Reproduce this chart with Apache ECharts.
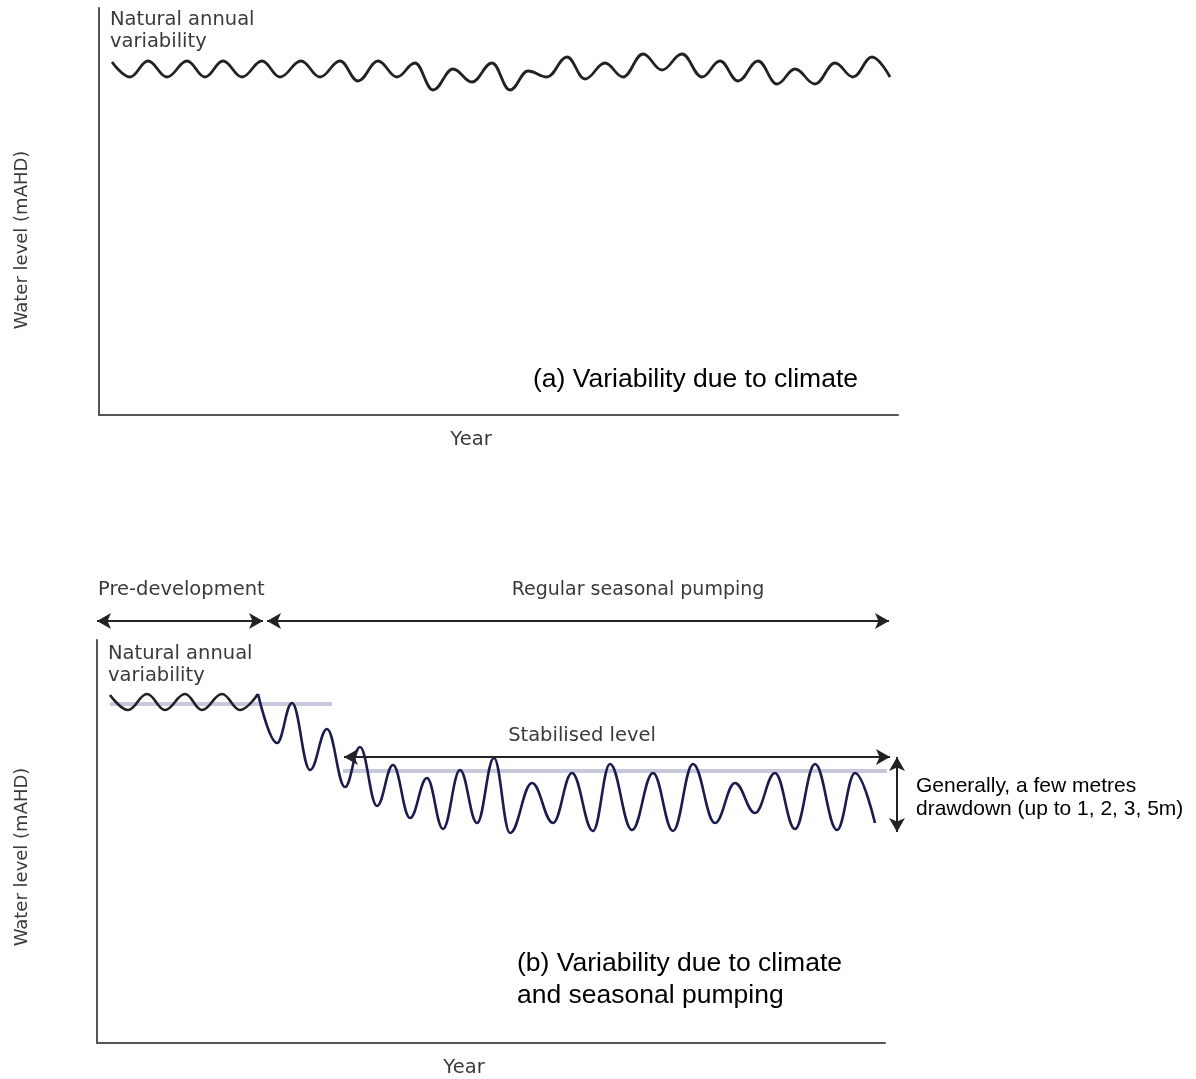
<!DOCTYPE html>
<html>
<head>
<meta charset="utf-8">
<script src="https://cdn.jsdelivr.net/npm/echarts@6/dist/echarts.min.js"></script>
<style>
html,body{margin:0;padding:0;background:#fff;}
#chart{width:1196px;height:1079px;}
</style>
</head>
<body>
<div id="chart"></div>
<script>
// ---- Data (abstract units: x = time, y = water level) ----
// Panel (a): natural annual variability, extrema of the wave
const topWave = [[13,353],[31,338],[49,354],[68,338],[88,354],[106,338],[124,354],[143,338],[163,354],[181,338],[202,354],[221,338],[241,354],[259,334],[279,354],[298,338],[316,352],[334,325],[354,346],[373,333],[393,352],[411,325],[429,344],[448,338],[468,358],[486,336],[506,352],[524,338],[544,361],[563,345],[583,361],[603,338],[621,354],[639,334],[659,354],[678,331],[696,346],[716,331],[736,352],[754,338],[773,358],[791,338]];

// Panel (b): pre-development natural variability
const bottomNatural = [[13,348],[31,333],[50,349],[68,333],[88,349],[105,333],[125,349],[143,333],[161,349]];
// Panel (b): regular seasonal pumping
const bottomPumping = [[161,349],[180,300],[195,340],[213,273],[230,314],[248,256],[263,296],[280,237],[296,278],[313,225],[330,265],[346,214],[363,273],[380,220],[397,285],[413,210],[435,260],[456,220],[475,270],[496,212],[513,279],[535,213],[556,270],[576,212],[596,279],[618,220],[638,260],[658,230],[678,270],[698,214],[718,279],[740,213],[758,270],[778,220]];

// Reference levels
const preLevel = [[13,339],[235,339]];
const stableLevel = [[246,272],[796,272]];

// Annotation arrows (start, end), same units as panel (b)
const arrowPre = [[0,422],[166,422]];
const arrowPump = [[170,422],[792,422]];
const arrowStable = [[247,286],[793,286]];
const arrowDrawdown = [[800,286],[800,211]];

// Axis extents
const topX = [0,799], topY = [0,407];
const botX = [0,788], botY = [0,403];
const annX = [0,820], annY = [0,483];

const AX = {type:'value', axisTick:{show:false}, axisLabel:{show:false}, splitLine:{show:false},
  axisLine:{show:true, lineStyle:{color:'#555', width:2}}};
const AXH = {type:'value', show:false};

const chart = echarts.init(document.getElementById('chart'));
const geo = 'DejaVu Sans';
const ari = 'Liberation Sans, Arial';
function txt(x,y,t,opt){
  return Object.assign({type:'text', x:x, y:y, silent:true,
    style:Object.assign({text:t, fill:'#3a3a3a', font:'19.5px "'+geo+'"', textAlign:'left', textVerticalAlign:'middle'}, opt||{})});
}
function arrowML(pts){
  return [{coord:pts[0]},{coord:pts[1]}];
}
const option = {
  animation:false,
  grid:[
    {left:99, top:8, width:799, height:407},
    {left:97, top:640, width:788, height:403},
    {left:97, top:560, width:820, height:483}
  ],
  xAxis:[
    Object.assign({}, AX, {gridIndex:0, min:topX[0], max:topX[1]}),
    Object.assign({}, AX, {gridIndex:1, min:botX[0], max:botX[1]}),
    Object.assign({}, AXH, {gridIndex:2, min:annX[0], max:annX[1]})
  ],
  yAxis:[
    Object.assign({}, AX, {gridIndex:0, min:topY[0], max:topY[1]}),
    Object.assign({}, AX, {gridIndex:1, min:botY[0], max:botY[1]}),
    Object.assign({}, AXH, {gridIndex:2, min:annY[0], max:annY[1]})
  ],
  series:[
    {type:'line', xAxisIndex:0, yAxisIndex:0, data:topWave, smooth:0.4, smoothMonotone:'x',
      showSymbol:false, symbol:'none', lineStyle:{color:'#222', width:2.8}, silent:true},
    {type:'line', xAxisIndex:1, yAxisIndex:1, data:preLevel, showSymbol:false, symbol:'none',
      lineStyle:{color:'#c8c8dc', width:4}, silent:true, z:1},
    {type:'line', xAxisIndex:1, yAxisIndex:1, data:stableLevel, showSymbol:false, symbol:'none', clip:false,
      lineStyle:{color:'#c8c8dc', width:4}, silent:true, z:1},
    {type:'line', xAxisIndex:1, yAxisIndex:1, data:bottomNatural, smooth:0.4, smoothMonotone:'x',
      showSymbol:false, symbol:'none', lineStyle:{color:'#222', width:2.6}, silent:true, z:3},
    {type:'line', xAxisIndex:1, yAxisIndex:1, data:bottomPumping, smooth:0.4, smoothMonotone:'x',
      showSymbol:false, symbol:'none', lineStyle:{color:'#1b1b4d', width:2.6}, silent:true, z:3},
    {type:'line', xAxisIndex:2, yAxisIndex:2, data:[], clip:false, silent:true, z:4,
      markLine:{silent:true, symbol:['arrow','arrow'], symbolSize:[12,14], label:{show:false},
        lineStyle:{color:'#222', width:2, type:'solid'}, emphasis:{disabled:true},
        data:[arrowML(arrowPre), arrowML(arrowPump), arrowML(arrowStable), arrowML(arrowDrawdown)]}}
  ],
  graphic:[
    txt(110,20,'Natural annual'),
    txt(110,42,'variability'),
    txt(533,380,'(a) Variability due to climate',{font:'26.5px '+ari, fill:'#000'}),
    txt(471,440,'Year',{textAlign:'center'}),
    {type:'text', x:22, y:240, rotation:Math.PI/2, silent:true,
      style:{text:'Water level (mAHD)', fill:'#3a3a3a', font:'18px "'+geo+'"', textAlign:'center', textVerticalAlign:'middle'}},
    txt(98,590,'Pre-development'),
    txt(638,590,'Regular seasonal pumping',{textAlign:'center', font:'19px "'+geo+'"'}),
    txt(108,654,'Natural annual'),
    txt(108,676,'variability'),
    txt(582,736,'Stabilised level',{textAlign:'center'}),
    txt(916,786,'Generally, a few metres',{font:'21px '+ari, fill:'#000'}),
    txt(916,809,'drawdown (up to 1, 2, 3, 5m)',{font:'21px '+ari, fill:'#000'}),
    txt(517,964,'(b) Variability due to climate',{font:'26.5px '+ari, fill:'#000'}),
    txt(517,996,'and seasonal pumping',{font:'26.5px '+ari, fill:'#000'}),
    txt(464,1068,'Year',{textAlign:'center'}),
    {type:'text', x:22, y:857, rotation:Math.PI/2, silent:true,
      style:{text:'Water level (mAHD)', fill:'#3a3a3a', font:'18px "'+geo+'"', textAlign:'center', textVerticalAlign:'middle'}}
  ]
};
chart.setOption(option);
</script>
</body>
</html>
